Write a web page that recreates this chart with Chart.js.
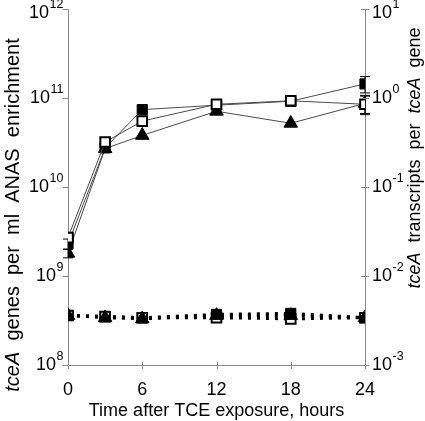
<!DOCTYPE html>
<html>
<head>
<meta charset="utf-8">
<script src="https://cdn.jsdelivr.net/npm/chart.js@4.4.0/dist/chart.umd.min.js"></script>
<style>
  html, body { margin: 0; padding: 0; background: #fff; }
  #wrap { width: 425px; height: 421px; }
</style>
</head>
<body>
<div id="wrap"><canvas id="c" width="425" height="421"></canvas></div>
<script>
'use strict';

// hours after TCE exposure
const hours = [0, 3, 6, 12, 18, 24];
const xTicks = [0, 6, 12, 18, 24];

// tceA genes per ml (left axis)
const genesFilled = [2.3e9, 2.75e10, 7.4e10, 8.3e10, 9.2e10, 1.44e11];
const genesOpen = [2.7e9, 3.2e10, 5.5e10, 8.5e10, 9.3e10, 8.5e10];
const genesTri = [1.8e9, 2.7e10, 3.8e10, 7.1e10, 5.2e10, 8.7e10];
const genesFilledErr = [0.3e9, 0.2e10, 0.6e10, 0.3e10, 0, 0.3e11];
const genesOpenErr = [0, 0, 0.4e10, 0, 0, 0.2e11];
const genesTriErr = [0.2e9, 0, 0, 0, 0, 0.2e11];

// tceA transcripts per gene (right axis)
const rnaFilled = [3.6e-3, 3.5e-3, 3.4e-3, 3.7e-3, 3.8e-3, 3.4e-3];
const rnaOpen = [3.6e-3, 3.5e-3, 3.4e-3, 3.4e-3, 3.3e-3, 3.4e-3];
const rnaTri = [3.6e-3, 3.4e-3, 3.3e-3, 3.6e-3, 3.6e-3, 3.4e-3];

const leftExp = [8, 9, 10, 11, 12];
const rightExp = [-3, -2, -1, 0, 1];

const FONT = '"Liberation Sans", Arial, Helvetica, sans-serif';
const AXIS = '#8a8a8a';

const pts = (ys) => hours.map((h, i) => ({ x: h, y: ys[i] }));

function marker(fill, style) {
  const open = fill === '#fff';
  return {
    pointStyle: style,
    pointRadius: style === 'triangle' ? 7.8 : (open ? 6.8 : 7.2),
    pointBackgroundColor: fill, pointBorderColor: '#000', pointBorderWidth: open ? 2 : 1,
  };
}
function upper(label, ys, err, fill, style) {
  return Object.assign({
    label, data: pts(ys), _err: err, yAxisID: 'yL',
    borderColor: '#4a4a4a', borderWidth: 1,
  }, marker(fill, style));
}
function lower(label, ys, fill, style) {
  return Object.assign({
    label, data: pts(ys), yAxisID: 'yR',
    borderColor: '#000', borderWidth: 3, borderDash: [3, 6],
  }, marker(fill, style));
}

// error bars, ticks, superscript labels and mixed-italic titles
const decorations = {
  id: 'decorations',
  beforeDatasetsDraw(chart) {
    const { ctx } = chart;
    const x = chart.scales.x;
    ctx.save();
    ctx.strokeStyle = '#000';
    ctx.lineWidth = 1;
    chart.data.datasets.forEach((ds) => {
      if (!ds._err) return;
      const sc = chart.scales[ds.yAxisID];
      ds.data.forEach((p, i) => {
        const e = ds._err[i];
        if (!e) return;
        const px = x.getPixelForValue(p.x);
        const y1 = sc.getPixelForValue(p.y + e);
        const y2 = sc.getPixelForValue(Math.max(p.y - e, p.y * 0.1));
        ctx.beginPath();
        ctx.moveTo(px, y1); ctx.lineTo(px, y2);
        ctx.moveTo(px - 5, y1); ctx.lineTo(px + 5, y1);
        ctx.moveTo(px - 5, y2); ctx.lineTo(px + 5, y2);
        ctx.stroke();
      });
    });
    ctx.restore();
  },
  afterDraw(chart) {
    const { ctx, chartArea: a } = chart;
    const x = chart.scales.x, yL = chart.scales.yL, yR = chart.scales.yR;
    ctx.save();
    ctx.strokeStyle = AXIS;
    ctx.lineWidth = 1;
    ctx.beginPath();
    xTicks.forEach((t) => {
      const px = Math.round(x.getPixelForValue(t)) + 0.5;
      ctx.moveTo(px, a.bottom - 3); ctx.lineTo(px, a.bottom + 4);
    });
    leftExp.forEach((e) => {
      const py = Math.round(yL.getPixelForValue(Math.pow(10, e))) + 0.5;
      ctx.moveTo(a.left - 5, py); ctx.lineTo(a.left, py);
    });
    rightExp.forEach((e) => {
      const py = Math.round(yR.getPixelForValue(Math.pow(10, e))) + 0.5;
      ctx.moveTo(a.right - 4, py); ctx.lineTo(a.right + 4, py);
    });
    ctx.stroke();

    ctx.fillStyle = '#000';
    ctx.textBaseline = 'middle';
    const big = `18px ${FONT}`, small = `12.5px ${FONT}`;

    // x tick labels
    ctx.font = big;
    ctx.textAlign = 'center';
    xTicks.forEach((t) => ctx.fillText(String(t), x.getPixelForValue(t), 390));

    // 10^n labels
    function power(e, px, py, alignRight) {
      const ex = String(e);
      ctx.font = big;
      const wb = ctx.measureText('10').width;
      ctx.font = small;
      const ws = ctx.measureText(ex).width;
      const x0 = alignRight ? px - wb - ws : px;
      const cy = Math.max(py, 13);
      ctx.textAlign = 'left';
      ctx.font = big;
      ctx.fillText('10', x0, cy);
      ctx.font = small;
      ctx.fillText(ex, x0 + wb + 0.5, cy - 8);
    }
    leftExp.forEach((e) => power(e, a.left - 5, yL.getPixelForValue(Math.pow(10, e)), true));
    rightExp.forEach((e) => power(e, a.right + 7, yR.getPixelForValue(Math.pow(10, e)), false));

    // titles with italic parts
    function rich(parts, size, cx, cy, rot) {
      ctx.save();
      ctx.translate(cx, cy);
      ctx.rotate(rot);
      const fonts = parts.map((p) => `${p[1] ? 'italic ' : ''}${size}px ${FONT}`);
      let w = 0;
      parts.forEach((p, i) => { ctx.font = fonts[i]; w += ctx.measureText(p[0]).width; });
      let px = -w / 2;
      ctx.textAlign = 'left';
      parts.forEach((p, i) => {
        ctx.font = fonts[i];
        ctx.fillText(p[0], px, 0);
        px += ctx.measureText(p[0]).width;
      });
      ctx.restore();
    }
    rich([['Time after TCE exposure, hours', false]], 18, (x.getPixelForValue(0) + x.getPixelForValue(24)) / 2, 411, 0);
    rich([['tceA', true], ['  genes  per  ml  ANAS  enrichment', false]], 20, 13, 215, -Math.PI / 2);
    rich([['tceA', true], ['  transcripts  per  ', false], ['tceA', true], ['  gene', false]], 18, 415, 158, -Math.PI / 2);
    ctx.restore();
  },
};

const sized = (w, h) => (scale) => {
  if (w !== null) scale.width = w;
  if (h !== null) scale.height = h;
};

new Chart(document.getElementById('c'), {
  type: 'line',
  data: {
    datasets: [
      upper('Genes (open)', genesOpen, genesOpenErr, '#fff', 'rect'),
      upper('Genes (filled)', genesFilled, genesFilledErr, '#000', 'rect'),
      upper('Genes (triangle)', genesTri, genesTriErr, '#000', 'triangle'),
      lower('Transcripts (triangle)', rnaTri, '#000', 'triangle'),
      lower('Transcripts (open)', rnaOpen, '#fff', 'rect'),
      lower('Transcripts (filled)', rnaFilled, '#000', 'rect'),
    ],
  },
  options: {
    responsive: false,
    animation: false,
    devicePixelRatio: 1,
    layout: { padding: { top: 9, left: 0, right: 0, bottom: 0 } },
    plugins: { legend: { display: false }, tooltip: { enabled: false } },
    elements: { line: { tension: 0, fill: false } },
    scales: {
      x: {
        type: 'linear', min: 0, max: 24,
        grid: { display: false }, ticks: { display: false },
        border: { display: true, color: AXIS, width: 1 },
        afterFit: sized(null, 56),
      },
      yL: {
        type: 'logarithmic', position: 'left', min: 1e8, max: 1e12,
        grid: { display: false }, ticks: { display: false },
        border: { display: true, color: AXIS, width: 1 },
        afterFit: sized(68, null),
      },
      yR: {
        type: 'logarithmic', position: 'right', min: 1e-3, max: 1e1,
        grid: { display: false }, ticks: { display: false },
        border: { display: true, color: AXIS, width: 1 },
        afterFit: sized(60, null),
      },
    },
  },
  plugins: [decorations],
});
</script>
</body>
</html>
